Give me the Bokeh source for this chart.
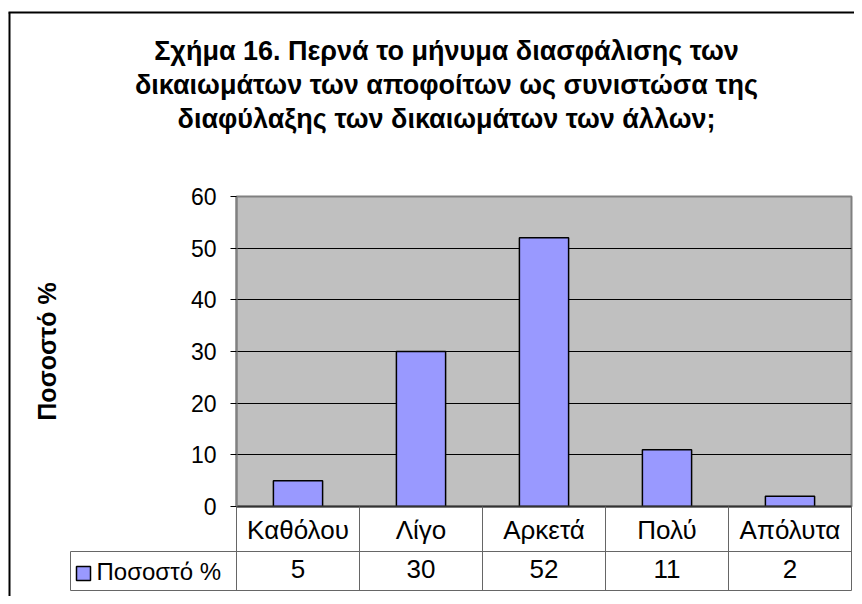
from bokeh.plotting import figure
from bokeh.models import Range1d, FixedTicker, LinearAxis
from bokeh.core.properties import value
from bokeh.embed import file_html
from bokeh.resources import INLINE

# ---------------- data ----------------
title_lines = [
    "Σχήμα 16. Περνά το μήνυμα διασφάλισης των",
    "δικαιωμάτων των αποφοίτων ως συνιστώσα της",
    "διαφύλαξης των δικαιωμάτων των άλλων;",
]
categories = ["Καθόλου", "Λίγο", "Αρκετά", "Πολύ", "Απόλυτα"]
values = [5, 30, 52, 11, 2]
series_name = "Ποσοστό %"
y_axis_title = "Ποσοστό %"
y_ticks = [0, 10, 20, 30, 40, 50, 60]

# ---------------- layout ----------------
FONT = "Liberation Sans"
W, H = 854, 596
L, R, T = 236, 3, 196
FRAME_BOTTOM = 506
B = H - FRAME_BOTTOM
FW, FH = W - L - R, FRAME_BOTTOM - T
n = len(categories)
ymax = y_ticks[-1]
px_x = FW / n
px_y = FH / ymax


def dx(px):  # canvas x -> data x
    return (px - L) / px_x - 0.5


def dy(py):  # canvas y -> data y
    return (FRAME_BOTTOM - py) / px_y


p = figure(width=W, height=H, x_range=Range1d(-0.5, n - 0.5), y_range=Range1d(0, ymax),
           output_backend="svg", toolbar_location=None, x_axis_location=None,
           min_border_left=L, min_border_right=R, min_border_top=T, min_border_bottom=B)
p.background_fill_color = "#C0C0C0"
p.border_fill_color = "white"
p.outline_line_color = "#808080"
p.outline_line_width = 2

xs = list(range(n))
p.vbar(x=xs, top=values, width=0.4, fill_color="#9999FF", line_color="black", line_width=1.5)

p.xgrid.visible = False
p.ygrid.grid_line_color = "black"
p.ygrid.grid_line_width = 1
p.yaxis.ticker = FixedTicker(ticks=y_ticks)
p.yaxis.minor_tick_line_color = None
p.yaxis.major_tick_in = 0
p.yaxis.major_tick_out = 6
p.yaxis.major_tick_line_color = "black"
p.yaxis.axis_line_color = "#808080"
p.yaxis.axis_line_width = 2
p.yaxis.major_label_text_font = FONT
p.yaxis.major_label_text_font_size = "23px"
p.yaxis.major_label_text_color = "black"
p.yaxis.major_label_standoff = 14
p.yaxis.axis_label = y_axis_title
p.yaxis.axis_label_text_font = FONT
p.yaxis.axis_label_text_font_size = "25px"
p.yaxis.axis_label_text_font_style = "bold"
p.yaxis.axis_label_text_color = "black"
p.yaxis.axis_label_standoff = 127

TABLE_FS = "26px"

# category row
ax1 = LinearAxis(ticker=FixedTicker(ticks=xs),
                 major_label_overrides={i: c for i, c in zip(xs, categories)})
ax1.axis_line_color = "#333333"
ax1.axis_line_width = 2
ax1.major_tick_line_color = None
ax1.major_tick_out = 0
ax1.major_tick_in = 0
ax1.minor_tick_line_color = None
ax1.major_label_standoff = 8
ax1.major_label_text_font = FONT
ax1.major_label_text_font_size = TABLE_FS
ax1.major_label_text_color = "black"
p.add_layout(ax1, "below")

# value row
ax2 = LinearAxis(ticker=FixedTicker(ticks=xs),
                 major_label_overrides={i: str(v) for i, v in zip(xs, values)})
ax2.axis_line_color = None
ax2.major_tick_line_color = None
ax2.major_tick_out = 0
ax2.major_tick_in = 0
ax2.minor_tick_line_color = None
ax2.major_label_standoff = 12
ax2.major_label_text_font = FONT
ax2.major_label_text_font_size = TABLE_FS
ax2.major_label_text_color = "black"
p.add_layout(ax2, "below")

# table grid lines
tcol = "#666666"
bounds = [i - 0.5 for i in range(n + 1)]
p.segment(x0=bounds, y0=[0] * len(bounds), x1=bounds, y1=[dy(590)] * len(bounds),
          line_color=tcol, line_width=1, level="overlay")
p.segment(x0=[dx(70), dx(70)], y0=[dy(551), dy(590)], x1=[n - 0.5, n - 0.5], y1=[dy(551), dy(590)],
          line_color=tcol, line_width=1, level="overlay")
p.segment(x0=[dx(70)], y0=[dy(551)], x1=[dx(70)], y1=[dy(590)],
          line_color=tcol, line_width=1, level="overlay")

# legend key in table
p.quad(left=[dx(76)], right=[dx(90)], top=[dy(566)], bottom=[dy(580)],
       fill_color="#9999FF", line_color="black", line_width=1.5, level="overlay")
p.text(x=[dx(96)], y=[dy(571)], text=[series_name], text_font=value(FONT),
       text_font_size="24px", text_baseline="middle", text_align="left",
       text_color="black", level="overlay")

# outer border
p.segment(x0=[dx(9), dx(8)], y0=[dy(12), dy(12)], x1=[dx(9), dx(900)], y1=[dy(700), dy(12)],
          line_color="black", line_width=2, level="overlay")

# title
p.text(x=[dx(446)] * len(title_lines), y=[dy(50 + 34 * k) for k in range(len(title_lines))],
       text=title_lines, text_font=value(FONT), text_font_size="27px", text_font_style="bold",
       text_align="center", text_baseline="middle", text_color="black", level="overlay")

open("out.html", "w").write(file_html(p, INLINE))
